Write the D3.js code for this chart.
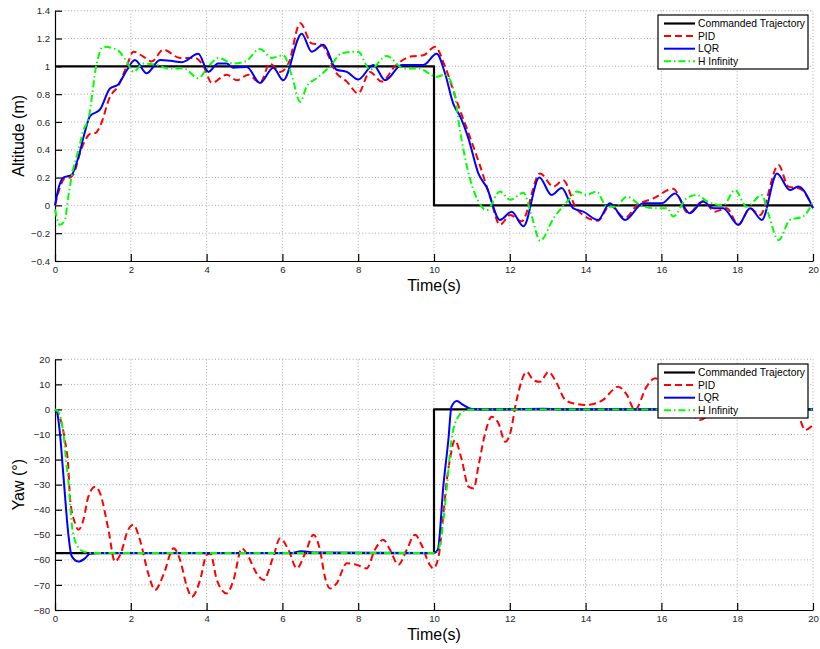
<!DOCTYPE html>
<html><head><meta charset="utf-8">
<script src="https://cdn.jsdelivr.net/npm/d3@7"></script>
<style>body{margin:0;background:#fff}svg{display:block}</style>
</head><body><svg id="c" width="820" height="649"></svg>
<script>
// ---------- DATA ----------
const seriesNames = ["Commanded Trajectory", "PID", "LQR", "H Infinity"];
const timeTicks = [0, 2, 4, 6, 8, 10, 12, 14, 16, 18, 20];
const altTicks = [-0.4, -0.2, 0, 0.2, 0.4, 0.6, 0.8, 1, 1.2, 1.4];
const yawTicks = [-80, -70, -60, -50, -40, -30, -20, -10, 0, 10, 20];

const altCmd = [[0,1],[10,1],[10,0],[20,0]];
const altPID = [[0,0],[0.12,0.12],[0.26,0.195],[0.4,0.2],[0.48,0.22],[0.7,0.41],[0.97,0.52],[1.06,0.52],[1.19,0.57],[1.45,0.78],[1.67,0.86],[1.89,1.0],[2.07,1.105],[2.33,1.07],[2.55,1.035],[2.86,1.12],[3.3,1.06],[3.7,1.06],[3.92,1.0],[4.14,0.88],[4.53,0.94],[4.8,0.9],[5.1,0.94],[5.41,0.88],[5.67,1.02],[5.94,0.96],[6.16,1.02],[6.47,1.31],[6.77,1.165],[7.03,1.155],[7.43,0.95],[7.7,0.89],[8.0,0.805],[8.31,0.96],[8.62,0.89],[8.97,1.0],[9.37,1.07],[9.72,1.08],[10.03,1.14],[10.29,1.0],[10.6,0.75],[10.91,0.52],[11.22,0.28],[11.48,0.06],[11.74,-0.14],[12.01,-0.07],[12.31,-0.115],[12.8,0.23],[13.15,0.135],[13.41,0.18],[13.77,-0.03],[14.33,-0.11],[14.64,0.0],[15.04,-0.09],[15.35,0.0],[15.79,0.05],[16.31,0.12],[16.71,-0.057],[17.1,0.03],[17.41,-0.045],[17.72,-0.02],[18.03,-0.14],[18.34,-0.02],[18.6,-0.07],[19.09,0.29],[19.35,0.135],[19.66,0.12],[20,-0.02]];
const altLQR = [[0,0],[0.1,0.13],[0.22,0.2],[0.44,0.22],[0.62,0.35],[0.79,0.53],[0.92,0.64],[1.19,0.69],[1.45,0.84],[1.67,0.87],[1.89,0.97],[2.11,1.045],[2.42,0.95],[2.77,1.045],[3.05,1.04],[3.35,1.03],[3.78,1.09],[4.05,0.96],[4.3,1.02],[4.53,1.02],[4.7,0.99],[5.06,0.995],[5.41,0.88],[5.76,0.99],[6.02,0.9],[6.51,1.235],[6.77,1.105],[7.08,1.155],[7.43,0.975],[7.7,0.96],[8.0,0.905],[8.4,1.01],[8.71,0.9],[9.15,1.01],[9.72,1.01],[10.07,1.09],[10.29,0.95],[10.51,0.73],[10.69,0.64],[10.91,0.48],[11.17,0.23],[11.39,0.13],[11.74,-0.105],[12.05,-0.045],[12.36,-0.15],[12.78,0.2],[13.1,0.075],[13.37,0.125],[13.67,-0.02],[13.94,-0.045],[14.33,-0.105],[14.64,0.015],[15.04,-0.105],[15.52,0.015],[16.01,0.015],[16.36,0.085],[16.75,-0.057],[17.1,0.027],[17.37,-0.02],[17.63,-0.02],[18.03,-0.14],[18.34,-0.02],[18.65,-0.105],[19.05,0.23],[19.39,0.11],[19.61,0.135],[20,-0.02]];
const altHinf = [[0,-0.03],[0.13,-0.14],[0.26,-0.105],[0.35,0.06],[0.44,0.21],[0.62,0.4],[0.75,0.54],[0.88,0.62],[1.1,1.02],[1.27,1.14],[1.63,1.12],[1.89,1.035],[2.07,0.96],[2.33,1.02],[2.68,1.01],[2.99,0.985],[3.39,0.985],[3.78,0.915],[4.05,1.0],[4.31,1.06],[4.71,1.02],[5.02,1.035],[5.41,1.125],[5.72,1.06],[6.02,1.08],[6.24,0.94],[6.47,0.745],[6.64,0.855],[6.91,0.915],[7.26,1.0],[7.57,1.095],[8.0,1.105],[8.31,0.975],[8.75,1.075],[9.2,0.985],[9.59,0.985],[10.07,0.925],[10.29,0.94],[10.51,0.84],[10.69,0.53],[10.96,0.18],[11.17,0.03],[11.39,-0.035],[11.74,0.1],[12.01,0.04],[12.36,0.09],[12.58,-0.08],[12.8,-0.255],[13.15,-0.095],[13.59,0.05],[13.77,0.1],[14.03,0.075],[14.29,0.1],[14.56,-0.01],[14.78,-0.01],[15.09,0.062],[15.44,0.003],[15.79,-0.02],[16.15,-0.02],[16.31,-0.08],[16.66,0.05],[16.93,0.075],[17.2,0.03],[17.63,0.0],[17.94,0.11],[18.25,-0.01],[18.65,0.075],[18.82,-0.057],[19.09,-0.25],[19.39,-0.105],[19.74,-0.08],[20,0.027]];

const yawCmd = [[0,-57.3],[10,-57.3],[10,0],[20,0]];
const yawPID = [[0,0],[0.1,-2],[0.26,-12.2],[0.35,-22.8],[0.4,-36],[0.53,-45.4],[0.62,-48],[0.75,-44],[0.88,-34.8],[1.06,-30.8],[1.19,-33.5],[1.41,-48],[1.58,-60.7],[1.72,-58],[1.93,-48],[2.07,-46],[2.24,-52],[2.46,-65.4],[2.64,-72],[2.86,-66],[3.13,-55.4],[3.3,-60],[3.48,-70.7],[3.61,-74.7],[3.83,-68],[4.0,-58],[4.1,-57.5],[4.27,-68],[4.53,-73.4],[4.71,-68],[4.93,-55.4],[5.06,-57.5],[5.32,-65.4],[5.5,-68],[5.76,-58.7],[5.94,-51.4],[6.16,-56],[6.38,-63.4],[6.6,-57.4],[6.82,-50],[6.99,-56],[7.12,-66.7],[7.26,-71.4],[7.43,-69.4],[7.7,-61.4],[7.96,-62],[8.22,-63.4],[8.44,-56],[8.66,-52],[8.84,-56],[9.06,-62],[9.28,-56],[9.5,-50],[9.67,-54],[9.89,-62],[9.98,-63.4],[10.12,-58.7],[10.25,-41.4],[10.34,-28],[10.42,-20],[10.55,-12.2],[10.73,-20],[10.91,-30.8],[11.05,-31.5],[11.17,-22.8],[11.35,-9.5],[11.52,-2.9],[11.7,-5.5],[11.88,-12.9],[12.01,-9.5],[12.18,3.8],[12.45,15],[12.62,11.7],[12.8,11],[13.02,15],[13.24,10.4],[13.46,3.8],[13.67,2.5],[14.03,1.8],[14.46,3.8],[14.86,9.1],[15.09,5.8],[15.3,-0.2],[15.61,9.1],[15.83,12.4],[16.2,8],[16.6,2],[17.02,-4.2],[17.5,2],[18,5],[18.5,1],[19,3],[19.4,1],[19.66,-4.2],[19.79,-8.2],[20,-6.2]];
const yawLQR = [[0,0],[0.05,-1],[0.13,-9.5],[0.22,-26],[0.35,-49.4],[0.44,-58.5],[0.62,-60.7],[0.79,-59.4],[0.92,-57.6],[1.2,-57.3],[6.2,-57.3],[6.5,-56.6],[6.9,-57.1],[10,-57.3],[10.1,-56],[10.25,-30],[10.38,-12],[10.46,1],[10.6,3.4],[10.77,1.8],[11,0.2],[11.5,0],[12.9,0.3],[13.3,0],[20,0]];
const yawHinf = [[0,0],[0.09,-1],[0.22,-9.5],[0.31,-22.8],[0.35,-28],[0.44,-45.4],[0.57,-54],[0.75,-56.7],[0.95,-57.3],[10.05,-57.3],[10.12,-56],[10.25,-44],[10.34,-30.8],[10.46,-12.2],[10.64,-2.9],[10.86,-0.2],[11.1,0],[20,0]];

// ---------- STYLES ----------
const styles = [
  {color:"#000000", dash:null, width:2.2},
  {color:"#ff0000", dash:"7,4", width:2},
  {color:"#0000ff", dash:null, width:2},
  {color:"#00ff00", dash:"7,3,1.5,3", width:2}
];
const FONT = "'Liberation Sans', Arial, Helvetica, sans-serif";
const svg = d3.select("#c");

function fmt(v){ const s = (Math.round(v*10)/10).toString(); return s.replace("-", "\u2212"); }

function panel(cfg){
  const x = d3.scaleLinear().domain([0,20]).range([55, 813]);
  const y = d3.scaleLinear().domain(cfg.domain).range(cfg.range);
  const g = svg.append("g");
  // grid
  const grid = g.append("g").attr("stroke","#a0a0a0").attr("stroke-width",0.9).attr("stroke-dasharray","1,2.2");
  timeTicks.forEach(t=>{ if(t>0) grid.append("line").attr("x1",x(t)).attr("x2",x(t)).attr("y1",y.range()[0]).attr("y2",y.range()[1]); });
  cfg.ticks.forEach(v=>{ if(v!==cfg.domain[0]) grid.append("line").attr("x1",x(0)).attr("x2",x(20)).attr("y1",y(v)).attr("y2",y(v)); });
  // axes
  const xa = g.append("g").attr("transform",`translate(0,${y.range()[0]})`)
    .call(d3.axisBottom(x).tickValues(timeTicks).tickSizeInner(-7).tickSizeOuter(0).tickPadding(5).tickFormat(d=>d));
  const ya = g.append("g").attr("transform",`translate(${x(0)},0)`)
    .call(d3.axisLeft(y).tickValues(cfg.ticks).tickSizeInner(-7).tickSizeOuter(0).tickPadding(5).tickFormat(fmt));
  [xa,ya].forEach(a=>{
    a.select(".domain").attr("stroke","#000").attr("stroke-width",1.2);
    a.selectAll(".tick line").attr("stroke","#000").attr("stroke-width",1.2);
    a.selectAll("text").attr("font-family",FONT).attr("font-size","9.6px").attr("fill","#262626");
  });
  xa.selectAll("text").attr("dy","0.71em").attr("y",5);
  // lines
  const line = d3.line().x(d=>x(d[0])).y(d=>y(d[1])).curve(d3.curveMonotoneX);
  const lineStep = d3.line().x(d=>x(d[0])).y(d=>y(d[1]));
  cfg.series.forEach((s,i)=>{
    const st = styles[i];
    g.append("path").datum(s).attr("d", i===0 ? lineStep(s) : line(s))
      .attr("fill","none").attr("stroke",st.color).attr("stroke-width",st.width)
      .attr("stroke-dasharray",st.dash).attr("stroke-linejoin","round");
  });
  // labels
  g.append("text").attr("x",434).attr("y",cfg.xLabelY).attr("text-anchor","middle")
    .attr("font-family",FONT).attr("font-size","16px").attr("fill","#000").text("Time(s)");
  const cy = (y.range()[0]+y.range()[1])/2;
  g.append("text").attr("transform",`translate(24,${cy}) rotate(-90)`).attr("text-anchor","middle")
    .attr("font-family",FONT).attr("font-size","16px").attr("fill","#000").text(cfg.yLabel);
  // legend
  const lg = g.append("g");
  lg.append("rect").attr("x",658).attr("y",cfg.legY).attr("width",150).attr("height",54)
    .attr("fill","#fff").attr("stroke","#000").attr("stroke-width",1.2);
  seriesNames.forEach((n,i)=>{
    const ry = cfg.legY + 8.5 + i*12.6;
    const st = styles[i];
    lg.append("line").attr("x1",664).attr("x2",695).attr("y1",ry).attr("y2",ry)
      .attr("stroke",st.color).attr("stroke-width",st.width).attr("stroke-dasharray",st.dash);
    lg.append("text").attr("x",698).attr("y",ry).attr("dy","0.35em")
      .attr("font-family",FONT).attr("font-size","10.3px").attr("fill","#000").text(n);
  });
}

panel({domain:[-0.4,1.4], range:[261,10.7], ticks:altTicks, series:[altCmd,altPID,altLQR,altHinf],
       yLabel:"Altitude (m)", xLabelY:291, legY:15});
panel({domain:[-80,20], range:[610,359.3], ticks:yawTicks, series:[yawCmd,yawPID,yawLQR,yawHinf],
       yLabel:"Yaw (\u00b0)", xLabelY:640, legY:364});
</script></body></html>
